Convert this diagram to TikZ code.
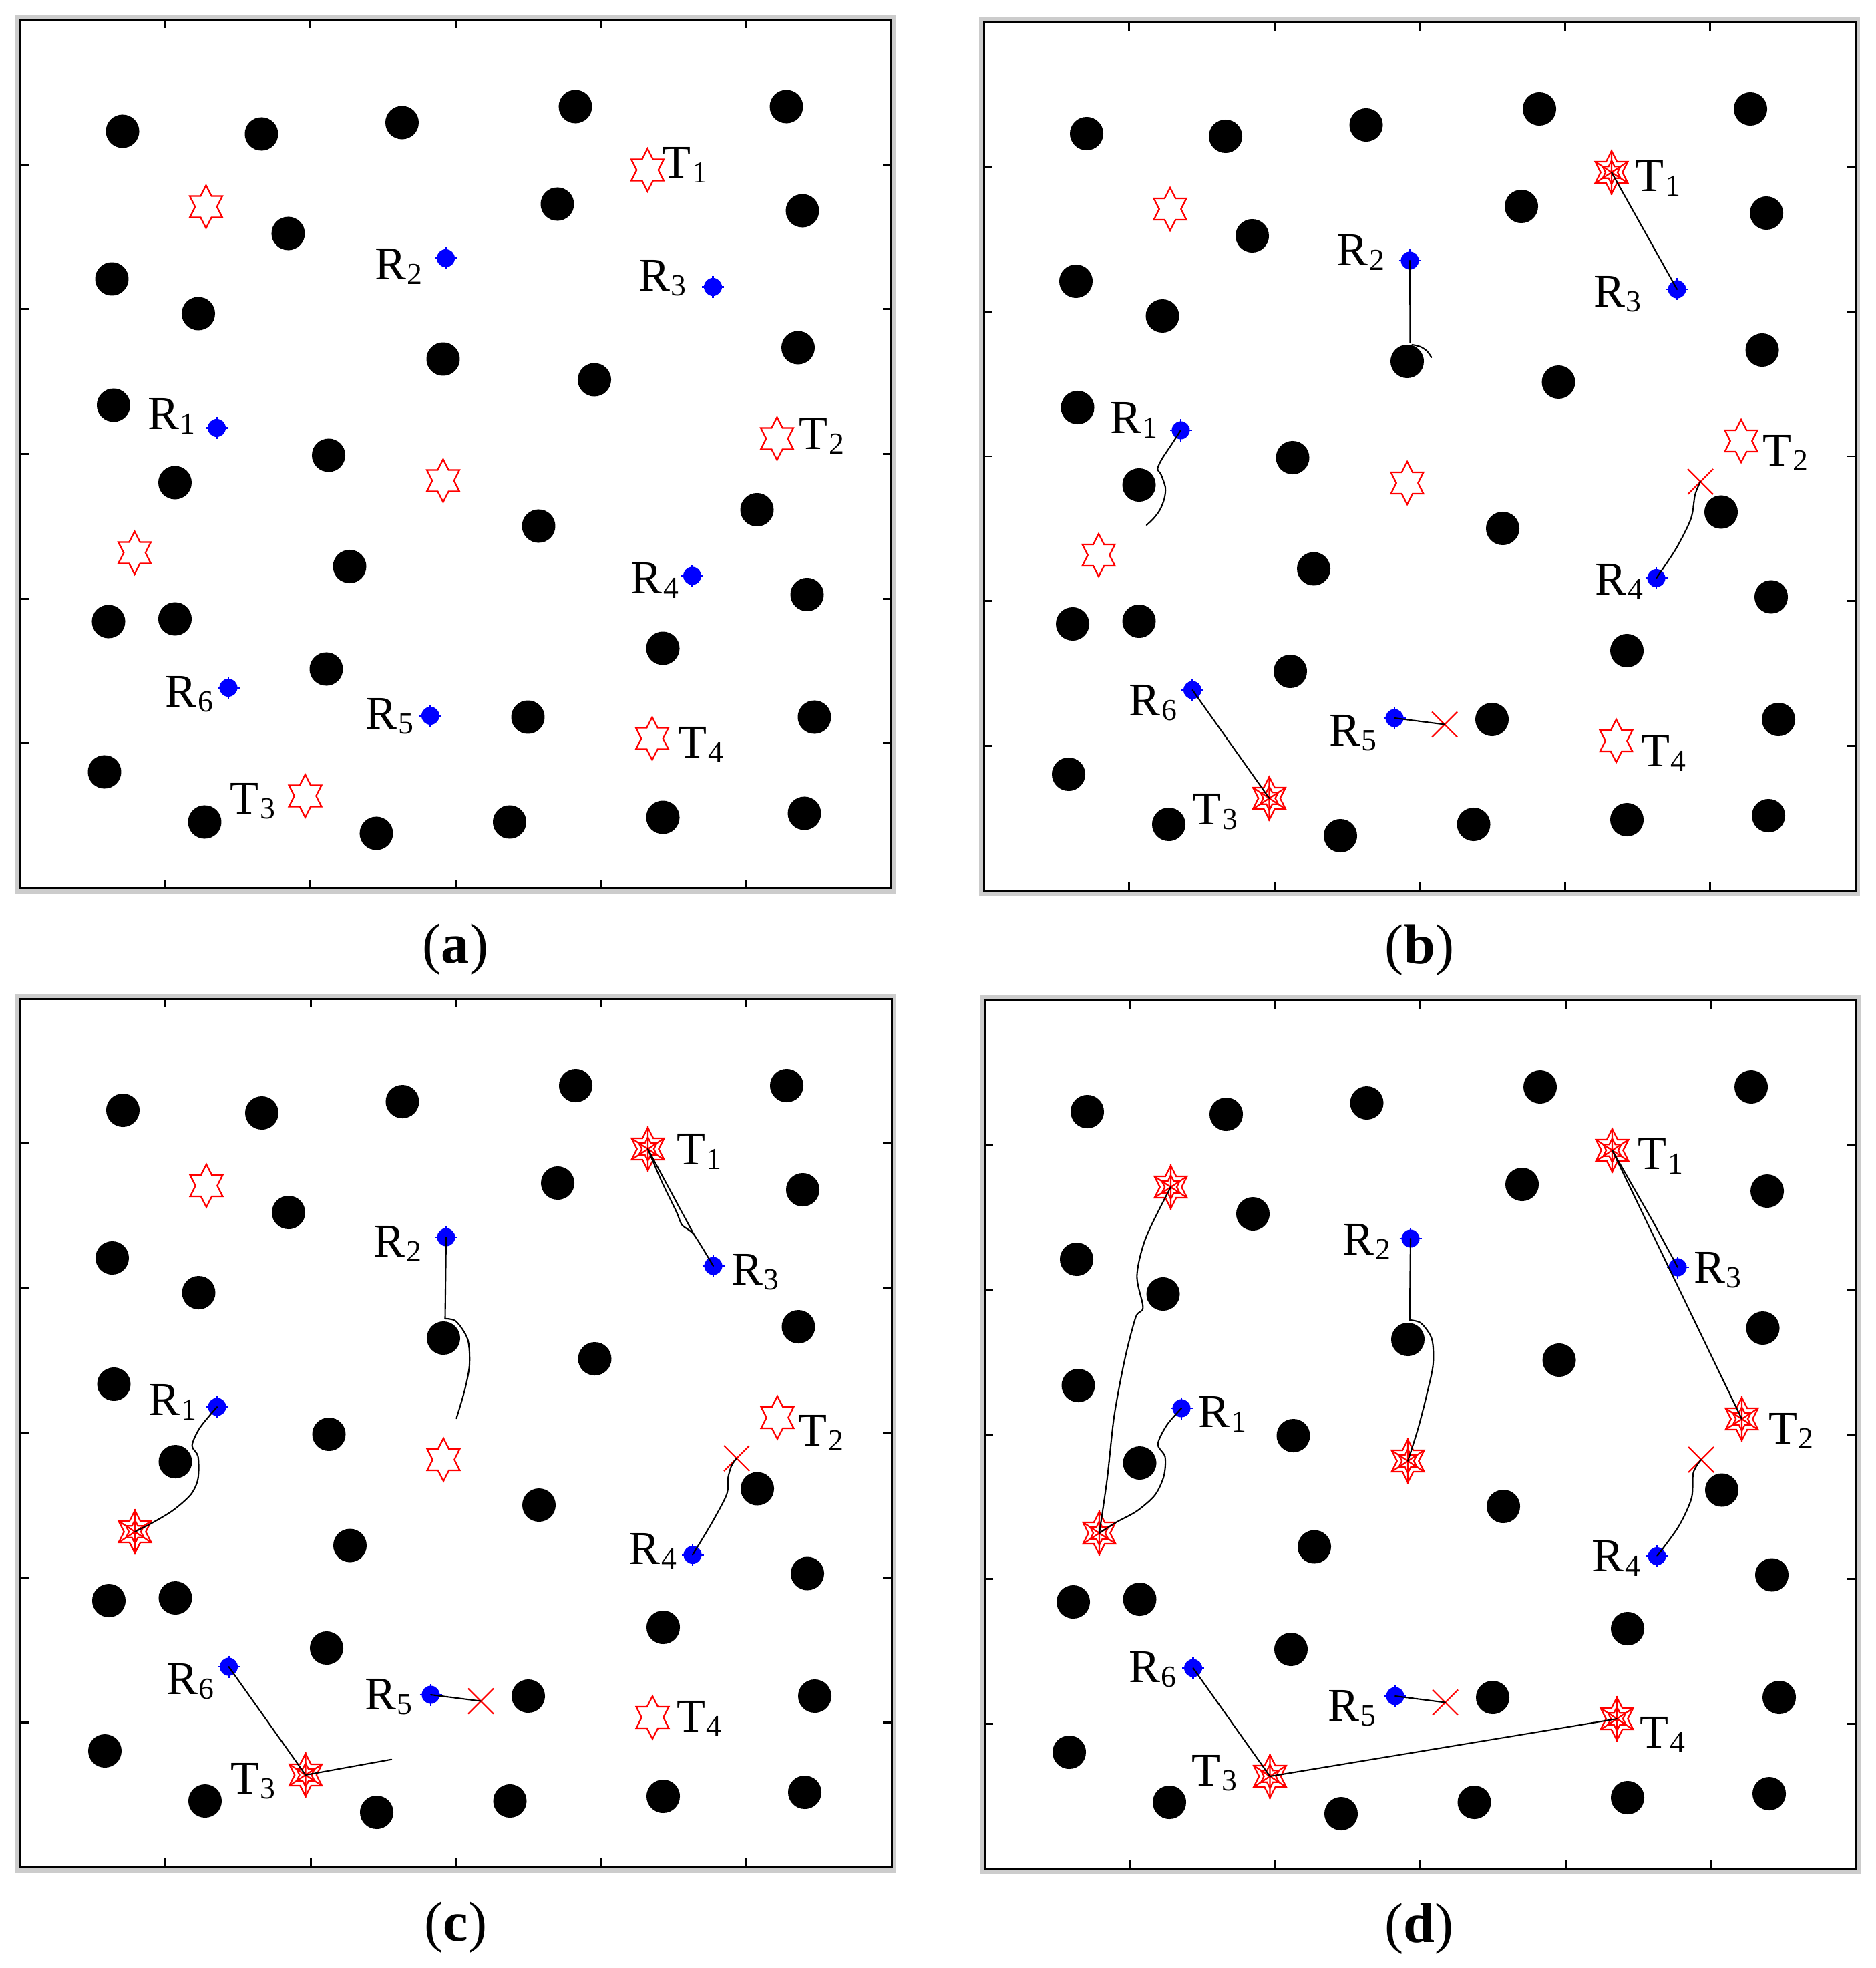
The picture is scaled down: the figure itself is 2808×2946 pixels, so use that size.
\documentclass[tikz,border=0pt]{standalone}
\usepackage{fontspec}
\setmainfont{Liberation Serif}
\newcommand\sub[1]{\kern0.5pt\raisebox{-2pt}{\fontsize{13}{13}\selectfont #1}}
\definecolor{graybg}{RGB}{204,204,204}
\definecolor{robotblue}{RGB}{0,0,255}
\definecolor{targetred}{RGB}{255,0,0}
\tikzset{
  pathln/.style={black, line width=0.6pt, line join=round, line cap=round},
  starln/.style={targetred, line width=0.65pt, line join=miter},
  labe/.style={anchor=base east, inner sep=0pt, font=\fontsize{20}{20}\selectfont},
  labw/.style={anchor=base west, inner sep=0pt, font=\fontsize{20}{20}\selectfont},
  capt/.style={anchor=center, inner sep=0pt, font=\fontsize{24}{24}\selectfont},
  framebox/.style={draw=black, line width=0.85pt, fill=white},
  tickln/.style={black, line width=0.85pt},
  pics/hexa/.style={code={
    \draw[starln, xscale=0.88] (90:32)--(120:18.5)--(150:32)--(180:18.5)--(210:32)--(240:18.5)--(270:32)--(300:18.5)--(330:32)--(0:18.5)--(30:32)--(60:18.5)--cycle;
  }},
  pics/hexadone/.style={code={
    \pic {hexa};
    \draw[starln, xscale=0.88] (90:34)--(270:34) (30:32)--(210:32) (150:32)--(330:32);
    \draw[starln, xscale=0.88, scale=0.55] (90:32)--(120:18.5)--(150:32)--(180:18.5)--(210:32)--(240:18.5)--(270:32)--(300:18.5)--(330:32)--(0:18.5)--(30:32)--(60:18.5)--cycle;
  }},
  pics/robot/.style={code={
    \fill[robotblue] (0,0) circle (0.135cm);
    \draw[robotblue, line width=0.8pt] (-16.5,0)--(16.5,0) (0,-16.5)--(0,16.5);
  }},
  pics/xmark/.style={code={
    \draw[targetred, line width=0.6pt] (-19,-19)--(19,19) (-19,19)--(19,-19);
  }},
}
\newcommand\panelbase{%
  \fill[graybg] (-7,-7) rectangle (1312,1309);
  \draw[framebox] (0,0) rectangle (1305,1300);
  \foreach \i in {1,...,5}{
    \draw[tickln] ({\i*1305/6},0) -- ({\i*1305/6},13);
    \draw[tickln] ({\i*1305/6},1300) -- ({\i*1305/6},1287);
    \draw[tickln] (0,{\i*1300/6}) -- (13,{\i*1300/6});
    \draw[tickln] (1305,{\i*1300/6}) -- (1292,{\i*1300/6});
  }
  \foreach \x/\y in {154/167, 362/171, 572.5/154, 832/130, 1148/130, 805/276, 1172/286,
    402/320, 138/388, 267.5/440, 634/508, 860.5/539, 1165.5/491, 140.5/577, 462.5/652,
    232.5/693, 777/758, 1104/733.5, 494/818.5, 1179/860.5, 133/901, 232.5/897, 963/941,
    459/972, 761/1044, 1190/1044, 127/1126, 277/1201, 534/1218, 733.5/1201, 963/1194, 1175/1188}
    {\fill[black] (\x,\y) circle (0.25cm);}
}
\newcommand\defcoords[1]{%
  \coordinate (#1T1) at (940,225);
  \coordinate (#1T2) at (1134,627);
  \coordinate (#1T3) at (427.5,1162);
  \coordinate (#1T4) at (947,1076);
  \coordinate (#1Sa) at (279,280);
  \coordinate (#1Sb) at (634,690);
  \coordinate (#1Sc) at (172,798);
  \coordinate (#1R1) at (295,611);
  \coordinate (#1R2) at (638,357);
  \coordinate (#1R3) at (1038,400);
  \coordinate (#1R4) at (1007,832.5);
  \coordinate (#1R5) at (615,1042);
  \coordinate (#1R6) at (312.5,1000);
  \coordinate (#1X4) at (1073,688);
  \coordinate (#1X5) at (690,1051.5);
}
\newcommand\robots[1]{%
  \foreach \r in {R1,R2,R3,R4,R5,R6}{\pic at (#1\r) {robot};}
}
\begin{document}
\begin{tikzpicture}[x=0.01cm, y=-0.01cm]
\useasboundingbox (0,0) rectangle (2808,2946);
\fill[white] (0,0) rectangle (2808,2946);

% ---------------- panel (a)
\begin{scope}[shift={(29.5,29.5)}]
  \panelbase
  \defcoords{a}
  \foreach \t in {T1,T2,T3,T4,Sa,Sb,Sc}{\pic at (a\t) {hexa};}
  \robots{a}
  \node[labw] (aLT1) at (961.5,237) {T\sub{1}};
  \node[labe] (aLR2) at (604,389) {R\sub{2}};
  \node[labe] (aLR3) at (999,406) {R\sub{3}};
  \node[labe] (aLR1) at (264,613) {R\sub{1}};
  \node[labw] (aLT2) at (1166.4,643) {T\sub{2}};
  \node[labe] (aLR4) at (987.5,859) {R\sub{4}};
  \node[labe] (aLR6) at (290.7,1029) {R\sub{6}};
  \node[labe] (aLR5) at (590.4,1062) {R\sub{5}};
  \node[labw] (aLT4) at (985.7,1105) {T\sub{4}};
  \node[labe] (aLT3) at (383.7,1189) {T\sub{3}};
  \node[capt] (acap) at (652.5,1392) {(\textbf{a})};
\end{scope}

% ---------------- panel (b)
\begin{scope}[shift={(1473,33)}]
  \panelbase
  \defcoords{b}
  \foreach \t in {T2,T4,Sa,Sb,Sc}{\pic at (b\t) {hexa};}
  \foreach \t in {T1,T3}{\pic at (b\t) {hexadone};}
  \robots{b}
  \pic at (bX4) {xmark};
  \pic at (bX5) {xmark};
  \coordinate (bR1e) at (243.7,753);
  \coordinate (bR2m) at (638.5,480);
  \coordinate (bR2e) at (670.3,502);
  \draw[pathln] (bR3) -- (bT1);
  \draw[pathln] (bR2) -- (bR2m);
  \draw[pathln] plot[smooth] coordinates {(641.5,483) (653.7,486) (663.7,492.5) (bR2e)};
  \draw[pathln] plot[smooth] coordinates {(bR1) (280.3,633.7) (267,653.7) (260.3,668.7) (265.3,677) (272,697) (270.3,713.7) (263.7,730.3) (253.7,743.7) (bR1e)};
  \draw[pathln] plot[smooth] coordinates {(bR4) (1036.6,788.2) (1058.8,743.5) (1065,707.7) (bX4)};
  \draw[pathln] (bR6) -- (bT3);
  \draw[pathln] (bR5) -- (bX5);
  \node[labw] (bLT1) at (974.6,253.8) {T\sub{1}};
  \node[labe] (bLR3) at (985.2,426.2) {R\sub{3}};
  \node[labe] (bLR2) at (600.7,364.6) {R\sub{2}};
  \node[labe] (bLR1) at (261.4,615.7) {R\sub{1}};
  \node[labw] (bLT2) at (1166,664.8) {T\sub{2}};
  \node[labe] (bLR4) at (987.9,857.9) {R\sub{4}};
  \node[labe] (bLR6) at (289.7,1038.4) {R\sub{6}};
  \node[labe] (bLT3) at (381,1201.9) {T\sub{3}};
  \node[labe] (bLR5) at (589.2,1083) {R\sub{5}};
  \node[labw] (bLT4) at (983.5,1114.3) {T\sub{4}};
  \node[capt] (bcap) at (652.5,1389) {(\textbf{b})};
\end{scope}

% ---------------- panel (c)
\begin{scope}[shift={(30,1495)}]
  \panelbase
  \defcoords{c}
  \foreach \t in {T2,T4,Sa,Sb}{\pic at (c\t) {hexa};}
  \foreach \t in {T1,T3,Sc}{\pic at (c\t) {hexadone};}
  \robots{c}
  \pic at (cX4) {xmark};
  \pic at (cX5) {xmark};
  \coordinate (cR2m) at (636.5,479);
  \coordinate (cR2e) at (653.4,628.2);
  \coordinate (cR3k) at (1009,353);
  \coordinate (cT3e) at (556.2,1138.7);
  \draw[pathln] plot[smooth, tension=0.4] coordinates {(cR3) (cR3k) (991.3,338.8) (982.4,318) (960.1,272.3) (cT1)};
  \draw[pathln] (cT1) -- (cR3k);
  \draw[pathln] (cR2) -- (cR2m);
  \draw[pathln] plot[smooth] coordinates {(cR2m) (653,483) (670.3,509.8) (673,547.8) (665.9,585.7) (cR2e)};
  \draw[pathln] plot[smooth] coordinates {(cR1) (269.2,642.4) (257.6,668.9) (266.5,685) (266.5,718.3) (255.8,742) (229.1,765.8) (197.9,784.7) (cSc)};
  \draw[pathln] plot[smooth] coordinates {(cR4) (1035.8,784.7) (1058.1,742) (1059.9,718.3) (1065.2,699.3) (cX4)};
  \draw[pathln] (cR6) -- (cT3) -- (cT3e);
  \draw[pathln] (cR5) -- (cX5);
  \node[labw] (cLT1) at (982.3,248.6) {T\sub{1}};
  \node[labw] (cLR3) at (1064.3,428.9) {R\sub{3}};
  \node[labe] (cLR2) at (601.7,386.2) {R\sub{2}};
  \node[labe] (cLR1) at (264.7,623.4) {R\sub{1}};
  \node[labw] (cLT2) at (1165,669) {T\sub{2}};
  \node[labe] (cLR4) at (984.1,846.4) {R\sub{4}};
  \node[labe] (cLR6) at (291.5,1041) {R\sub{6}};
  \node[labe] (cLT3) at (383.3,1190) {T\sub{3}};
  \node[labe] (cLR5) at (588.3,1064.7) {R\sub{5}};
  \node[labw] (cLT4) at (982.3,1097.9) {T\sub{4}};
  \node[capt] (ccap) at (652.5,1390) {(\textbf{c})};
\end{scope}

% ---------------- panel (d)
\begin{scope}[shift={(1474,1497)}]
  \panelbase
  \defcoords{d}
  \foreach \t in {T1,T2,T3,T4,Sa,Sb,Sc}{\pic at (d\t) {hexadone};}
  \robots{d}
  \pic at (dX4) {xmark};
  \pic at (dX5) {xmark};
  \coordinate (dR2m) at (636.8,479);
  \draw[pathln] plot[smooth, tension=0.3] coordinates {(dR3) (1000,330) (dT1)};
  \draw[pathln] (dT1) -- (dT2);
  \draw[pathln] (dR2) -- (dR2m);
  \draw[pathln] plot[smooth] coordinates {(dR2m) (653.9,483.8) (670,507.6) (671.8,545.7) (662.8,588.6) (649.4,641) (dSb)};
  \draw[pathln] plot[smooth] coordinates {(dR1) (273.2,636.2) (259.7,664.8) (270.5,683.8) (268.7,712.4) (255.3,741) (228.4,764.8) (197,782) (dSc)};
  \draw[pathln] plot[smooth] coordinates {(dSc) (183.7,717.2) (194.4,621.9) (210.5,536.2) (226.7,474.3) (237.4,460) (228.4,412.4) (241.9,355.3) (dSa)};
  \draw[pathln] plot[smooth] coordinates {(dR4) (1039,788.6) (1058.7,745.7) (1061.4,707.6) (dX4)};
  \draw[pathln] (dR6) -- (dT3) -- (dT4);
  \draw[pathln] (dR5) -- (dX5);
  \node[labw] (dLT1) at (978.1,253.3) {T\sub{1}};
  \node[labw] (dLR3) at (1061.4,423.8) {R\sub{3}};
  \node[labw] (dLT2) at (1173.4,664.8) {T\sub{2}};
  \node[labe] (dLR2) at (609.1,381) {R\sub{2}};
  \node[labw] (dLR1) at (319.8,639) {R\sub{1}};
  \node[labe] (dLR4) at (982.6,855.3) {R\sub{4}};
  \node[labe] (dLR6) at (288.4,1021.9) {R\sub{6}};
  \node[labe] (dLT3) at (378.9,1176.2) {T\sub{3}};
  \node[labw] (dLT4) at (980.8,1119) {T\sub{4}};
  \node[labe] (dLR5) at (586.7,1079) {R\sub{5}};
  \node[capt] (dcap) at (651,1390) {(\textbf{d})};
\end{scope}
\end{tikzpicture}
\end{document}
